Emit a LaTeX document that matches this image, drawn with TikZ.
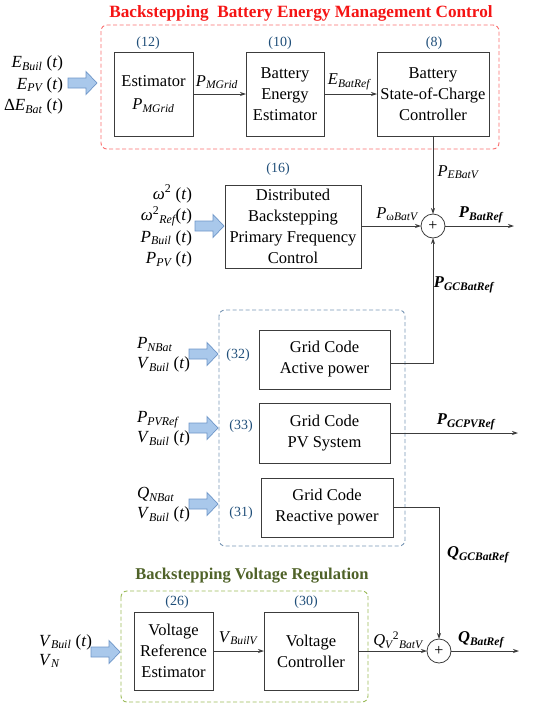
\documentclass[tikz,border=0pt]{standalone}
\usepackage{fontspec}
\setmainfont{Liberation Serif}
\usetikzlibrary{calc,arrows.meta}
\definecolor{numblue}{RGB}{31,78,121}
\definecolor{redt}{RGB}{245,20,20}
\definecolor{redbox}{RGB}{250,110,110}
\definecolor{bluebox}{RGB}{120,150,180}
\definecolor{greent}{RGB}{79,98,40}
\definecolor{greenbox}{RGB}{155,187,89}
\definecolor{arrfill}{RGB}{169,200,235}
\definecolor{arrdraw}{RGB}{110,150,200}
\definecolor{linec}{RGB}{60,60,60}
\newcommand\sbs[1]{\textsubscript{\itshape #1}}
\newcommand\bsbs[1]{\textsubscript{\bfseries\itshape #1}}
\newcommand\It[1]{\textit{#1}}
\begin{document}
\begin{tikzpicture}[x=1pt,y=-1pt,
  every node/.style={inner sep=0pt,outer sep=0pt},
  blk/.style={draw=linec,line width=0.8pt,fill=white,align=center,font=\fontsize{16.5}{21}\selectfont},
  num/.style={text=numblue,font=\fontsize{14}{16}\selectfont},
  lbl/.style={font=\fontsize{16.5}{20}\selectfont},
  inp/.style={font=\fontsize{17}{21.5}\selectfont},
  conn/.style={draw=linec,line width=0.8pt,-{Stealth[length=6pt,width=4pt]}},
  wire/.style={draw=linec,line width=0.8pt},
  sumc/.style={circle,draw=linec,line width=0.8pt,minimum size=24pt,font=\fontsize{16}{16}\selectfont},
  grp/.style={line width=0.9pt,rounded corners=6pt,dash pattern=on 4pt off 2.5pt},
  barrow/.pic={\draw[arrdraw,fill=arrfill,line width=0.7pt] (0,5)--(18,5)--(18,11.5)--(29,0)--(18,-11.5)--(18,-5)--(0,-5)--cycle;}
]
\useasboundingbox (0,0) rectangle (550,707);

% group frames
\draw[grp,draw=redbox] (101,25) rectangle (499,149);
\draw[grp,draw=bluebox] (219,310) rectangle (405,546);
\draw[grp,draw=greenbox] (121,591) rectangle (368,702);

\node[text=redt,font=\bfseries\fontsize{17.2}{18}\selectfont] (t1) at (301,13) {Backstepping\ \ Battery Energy Management Control};
\node[text=greent,font=\bfseries\fontsize{16.5}{18}\selectfont] (t2) at (252,576) {Backstepping Voltage Regulation};

% blocks
\node[blk,minimum width=79pt,minimum height=84pt] (est) at (153.5,94) {Estimator\\[2pt]\It{P}\sbs{MGrid}};
\node[blk,minimum width=78pt,minimum height=84pt] (bee) at (285,94) {Battery\\Energy\\Estimator};
\node[blk,minimum width=112pt,minimum height=84pt] (soc) at (433,94) {Battery\\State-of-Charge\\Controller};
\node[blk,minimum width=136pt,minimum height=83pt] (dist) at (293,226.5) {Distributed\\Backstepping\\Primary Frequency\\Control};
\node[blk,minimum width=131pt,minimum height=59pt] (gca) at (324.5,359.5) {Grid Code\\Active power};
\node[blk,minimum width=131pt,minimum height=60pt] (gcpv) at (324.5,433) {Grid Code\\PV System};
\node[blk,minimum width=132pt,minimum height=59pt] (gcr) at (327,507.5) {Grid Code\\Reactive power};
\node[blk,minimum width=79pt,minimum height=78pt] (vre) at (173.5,651) {Voltage\\Reference\\Estimator};
\node[blk,minimum width=94pt,minimum height=78pt] (vc) at (311,651) {Voltage\\Controller};

% equation numbers
\node[num] (n12) at (148,43) {(12)};
\node[num] (n10) at (280,43) {(10)};
\node[num] (n8) at (434,43) {(8)};
\node[num] (n16) at (278,169) {(16)};
\node[num] (n32) at (238,355) {(32)};
\node[num] (n33) at (241,426) {(33)};
\node[num] (n31) at (241,513) {(31)};
\node[num] (n26) at (177,602) {(26)};
\node[num] (n30) at (306,602) {(30)};

% summing junctions
\node[sumc] (s1) at (433,226) {+};
\node[sumc] (s2) at (439,651) {+};

% output end points
\coordinate (o1) at (514,226);
\coordinate (o2) at (518,433);
\coordinate (o3) at (519,651);
\coordinate (g1) at (391,363);

% connectors
\draw[conn] (est.east |- 0,94) -- (bee.west |- 0,94);
\draw[conn] (bee.east |- 0,94) -- (soc.west |- 0,94);
\draw[conn] (soc.south) -- (s1.north);
\draw[conn] (dist.east |- s1.west) -- (s1.west);
\draw[conn] (s1.east) -- (o1);
\draw[conn] (g1) -| (s1.south);
\draw[conn] (gcpv.east) -- (o2);
\draw[conn] (gcr.east) -| (s2.north);
\draw[conn] (vre.east) -- (vc.west);
\draw[conn] (vc.east) -- (s2.west);
\draw[conn] (s2.east) -- (o3);

% connector labels
\node[lbl] (l1) at (217,82) {\It{P}\sbs{MGrid}};
\node[lbl] (l2) at (349,82) {\It{E}\sbs{BatRef}};
\node[lbl] (l3) at (458,172) {\It{P}\sbs{EBatV}};
\node[lbl] (l4) at (397,214) {\It{P}\textsubscript{ω\itshape BatV}};
\node[lbl] (l5) at (481,215) {\textbf{\textit{P}}\bsbs{BatRef}};
\node[lbl] (l6) at (464,285) {\textbf{\textit{P}}\bsbs{GCBatRef}};
\node[lbl] (l7) at (466,422) {\textbf{\textit{P}}\bsbs{GCPVRef}};
\node[lbl] (l8) at (478,555) {\textbf{\textit{Q}}\bsbs{GCBatRef}};
\node[lbl] (l9) at (238,638) {\It{V}\sbs{BuilV}};
\node[lbl] (l10) at (398,640) {\It{Q}\sbs{V}\textsuperscript{2}\sbs{BatV}};
\node[lbl] (l11) at (481,640) {\textbf{\textit{Q}}\bsbs{BatRef}};

% inputs
\node[inp,align=right,anchor=east] (i1) at (63,85) {\It{E}\sbs{Buil} (\It{t})\\\It{E}\sbs{PV} (\It{t})\\Δ\It{E}\sbs{Bat} (\It{t})};
\node[inp,align=right,anchor=east] (i2) at (192,226) {\It{ω}\textsuperscript{2} (\It{t})\\\It{ω}\textsuperscript{2}\sbs{Ref}(\It{t})\\\It{P}\sbs{Buil} (\It{t})\\\It{P}\sbs{PV} (\It{t})};
\node[inp,align=left,anchor=west,font=\fontsize{17}{20}\selectfont] (i3) at (137,355) {\It{P}\sbs{NBat}\\\It{V}\sbs{Buil} (\It{t})};
\node[inp,align=left,anchor=west,font=\fontsize{17}{20}\selectfont] (i4) at (137,429) {\It{P}\sbs{PVRef}\\\It{V}\sbs{Buil} (\It{t})};
\node[inp,align=left,anchor=west,font=\fontsize{17}{20}\selectfont] (i5) at (137,505) {\It{Q}\sbs{NBat}\\\It{V}\sbs{Buil} (\It{t})};
\node[inp,align=left,anchor=west,font=\fontsize{17}{19}\selectfont] (i6) at (39,651) {\It{V}\sbs{Buil} (\It{t})\\\It{V}\sbs{N}};

% block arrows
\pic at (68,83) {barrow};
\pic at (195,226) {barrow};
\pic at (189,354) {barrow};
\pic at (189,428) {barrow};
\pic at (189,504) {barrow};
\pic at (91,652) {barrow};
\end{tikzpicture}
\end{document}
